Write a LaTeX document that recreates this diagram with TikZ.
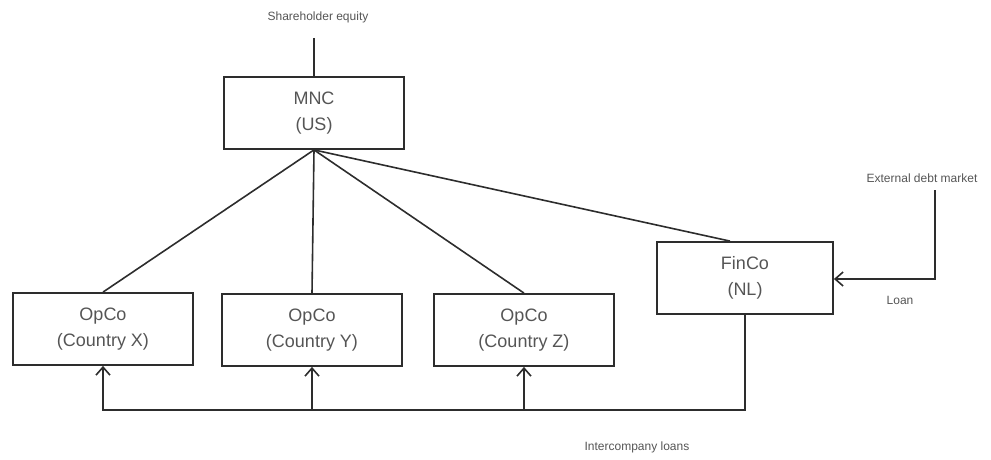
\documentclass[tikz,border=0pt]{standalone}
\usepackage{fontspec}
\setmainfont{Liberation Sans}
\usetikzlibrary{arrows.meta}
\definecolor{boxline}{RGB}{45,45,45}
\definecolor{txt}{RGB}{85,85,85}
\begin{document}
\begin{tikzpicture}[x=1pt,y=-1pt,
  entity/.style={draw=boxline,line width=1.8pt,minimum width=180pt,minimum height=72pt,
    align=center,font=\fontsize{18}{26}\selectfont,text=txt,inner sep=0pt},
  wide/.style={minimum width=176pt},
  link/.style={draw=boxline,line width=1.6pt},
  flow/.style={draw=boxline,line width=1.6pt,-{Straight Barb[length=8pt,width=14pt,line width=1.6pt]}},
  lab/.style={font=\fontsize{12}{14}\selectfont,text=txt,inner sep=1pt}]
\useasboundingbox (0,0) rectangle (991,460);
\node[entity,minimum height=72pt] (mnc) at (314,113) {MNC\\(US)};
\node[entity] (opx) at (103,329) {OpCo\\(Country X)};
\node[entity] (opy) at (312,330) {OpCo\\(Country Y)};
\node[entity] (opz) at (524,330) {OpCo\\(Country Z)};
\node[entity,wide] (fin) at (745,278) {FinCo\\(NL)};
\node[lab] (top) at (318,17) {Shareholder equity};
\node[lab] (ext) at (922,178) {External debt market};
\node[lab] (loan) at (900,300) {Loan};
\node[lab] (ic) at (637,447) {Intercompany loans};
\coordinate (topin) at (314,38);
\coordinate (extc) at (935,190);
\coordinate (extk) at (935,279);
\coordinate (bk) at (745,410);
\coordinate (bx) at (103,410);
\coordinate (by) at (312,410);
\coordinate (bz) at (524,410);
\draw[link] (topin) -- (mnc.north);
\draw[link] (mnc.south) -- (opx.north);
\draw[link] (mnc.south) -- (opy.north);
\draw[link] (mnc.south) -- (opz.north);
\draw[link] (mnc.south) -- (fin.north -| 730,0);
\draw[flow] (extc) -- (extk) -- (fin.east |- extk);
\draw[flow] (fin.south) -- (bk) -- (bx) -- (opx.south);
\draw[flow] (by) -- (opy.south);
\draw[flow] (bz) -- (opz.south);
\end{tikzpicture}
\end{document}
